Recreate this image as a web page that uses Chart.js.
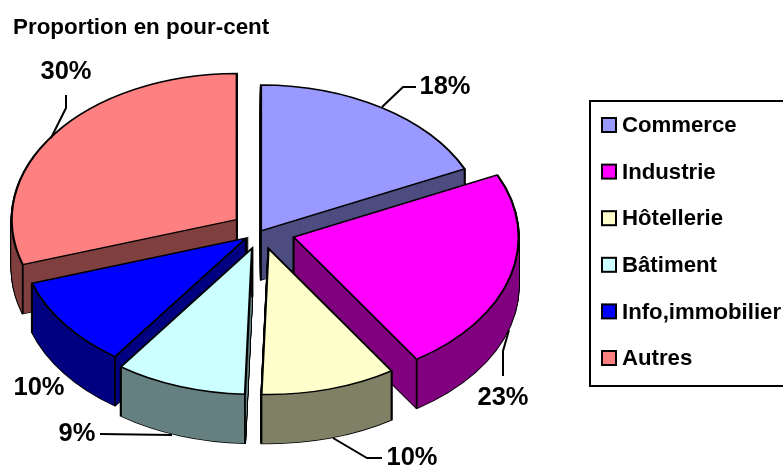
<!DOCTYPE html>
<html>
<head>
<meta charset="utf-8">
<style>
  html, body { margin: 0; padding: 0; background: #fff; overflow: hidden; }
  #wrap { position: relative; width: 783px; height: 467px; }
</style>
<script src="https://cdn.jsdelivr.net/npm/chart.js@4/dist/chart.umd.min.js"></script>
</head>
<body>
<div id="wrap"><canvas id="myChart" width="783" height="467"></canvas></div>
<script>
var titleText = "Proportion en pour-cent";
var categories = ["Commerce", "Industrie", "Hôtellerie", "Bâtiment", "Info,immobilier", "Autres"];
// shares, labels show them rounded
var shares = [18, 22.8, 9.7, 9.4, 10.1, 30];

// look of the slices
var topColors = ["#9999ff", "#ff00ff", "#ffffcc", "#ccffff", "#0000ff", "#ff8080"];
var sideColors = ["#4d4d80", "#800080", "#808066", "#668080", "#000080", "#804040"];
var explode = [0, 34, 28, 28, 18.5, 30];
var drawOrder = [0, 5, 4, 1, 3, 2]; // back to front

// percent labels: text centre, then the leader line
var labelSpots = [[445, 87], [503, 398], [412, 458], [77, 434], [39, 388], [66, 72]];
var leaders = [
  [[382, 107], [403, 87], [416, 87]],
  [[509, 330], [503, 351], [503, 376]],
  [[333, 438], [367, 458], [382, 458]],
  [[100, 434], [172, 435]],
  [],
  [[66, 95], [66, 108], [51, 138]],
];

var TILT = 0.649;
var DEPTH = 49;

function paintArc(ctx, el, dy, bg, line, width) {
  var mid = (el.startAngle + el.endAngle) / 2;
  var off = explode[el.$index];
  var saved = el.options;
  var opts = Object.create(saved);
  opts.backgroundColor = bg;
  opts.borderColor = line;
  opts.borderWidth = width;
  opts.offset = 0;
  el.options = opts;
  ctx.save();
  ctx.translate(el.x, el.y + dy);
  ctx.scale(1, TILT);
  ctx.translate(-el.x, -el.y);
  ctx.translate(Math.cos(mid) * off, Math.sin(mid) * off);
  el.draw(ctx);
  ctx.restore();
  el.options = saved;
}

function paintEdges(ctx, el) {
  var mid = (el.startAngle + el.endAngle) / 2;
  var off = explode[el.$index];
  var ox = el.x + Math.cos(mid) * off;
  var oy = el.y + Math.sin(mid) * off * TILT;
  var r = el.outerRadius;
  var pts = [
    [ox, oy],
    [ox + r * Math.cos(el.startAngle), oy + r * Math.sin(el.startAngle) * TILT],
    [ox + r * Math.cos(el.endAngle), oy + r * Math.sin(el.endAngle) * TILT],
  ];
  ctx.save();
  ctx.strokeStyle = "#000";
  ctx.lineWidth = 1.8;
  pts.forEach(function (p) {
    ctx.beginPath();
    ctx.moveTo(p[0], p[1]);
    ctx.lineTo(p[0], p[1] + DEPTH);
    ctx.stroke();
  });
  ctx.restore();
}

var tiltedPie = {
  id: "tiltedPie",
  beforeDatasetsDraw: function (chart) {
    var ctx = chart.ctx;
    var arcs = chart.getDatasetMeta(0).data;
    arcs.forEach(function (el, i) { el.$index = i; });
    drawOrder.forEach(function (i) {
      var el = arcs[i];
      var d;
      for (d = DEPTH; d > 0; d--) paintArc(ctx, el, d, "#000", "#000", 2.2);
      for (d = DEPTH; d > 0; d--) paintArc(ctx, el, d, sideColors[i], sideColors[i], 0);
      paintEdges(ctx, el);
      paintArc(ctx, el, 0, topColors[i], "#000", 2.2);
    });
    return false;
  },
  afterDraw: function (chart) {
    var ctx = chart.ctx;
    ctx.save();
    ctx.fillStyle = "#000";
    ctx.strokeStyle = "#000";

    // title
    ctx.textBaseline = "alphabetic";
    ctx.textAlign = "left";
    ctx.font = "bold 22.4px 'Liberation Sans'";
    ctx.fillText(titleText, 13, 34);

    // leaders + percent labels
    ctx.lineWidth = 2;
    leaders.forEach(function (pts) {
      if (!pts.length) return;
      ctx.beginPath();
      pts.forEach(function (p, n) {
        if (n === 0) ctx.moveTo(p[0], p[1]);
        else ctx.lineTo(p[0], p[1]);
      });
      ctx.stroke();
    });
    ctx.font = "bold 25.5px 'Liberation Sans'";
    ctx.textAlign = "center";
    ctx.textBaseline = "middle";
    shares.forEach(function (v, i) {
      ctx.fillText(Math.round(v) + "%", labelSpots[i][0], labelSpots[i][1]);
    });

    // legend box runs off the right edge
    ctx.lineWidth = 2;
    ctx.strokeRect(590, 101, 220, 285);
    ctx.textAlign = "left";
    ctx.font = "bold 22.2px 'Liberation Sans'";
    categories.forEach(function (name, i) {
      var y = 125 + i * 46.6;
      ctx.fillStyle = topColors[i];
      ctx.fillRect(602, y - 7, 14, 14);
      ctx.strokeRect(602, y - 7, 14, 14);
      ctx.fillStyle = "#000";
      ctx.fillText(name, 622, y + 1);
    });
    ctx.restore();
  },
};

new Chart(document.getElementById("myChart"), {
  type: "pie",
  data: {
    labels: categories,
    datasets: [
      {
        data: shares,
        backgroundColor: topColors,
        borderColor: "#000",
        borderWidth: 2,
        borderJoinStyle: "miter",
        offset: explode,
      },
    ],
  },
  options: {
    responsive: false,
    animation: false,
    radius: 225,
    layout: { padding: { left: 0, top: 0, right: 261, bottom: 5 } },
    plugins: {
      legend: { display: false },
      title: { display: false },
      tooltip: { enabled: false },
    },
  },
  plugins: [tiltedPie],
});
</script>
</body>
</html>
